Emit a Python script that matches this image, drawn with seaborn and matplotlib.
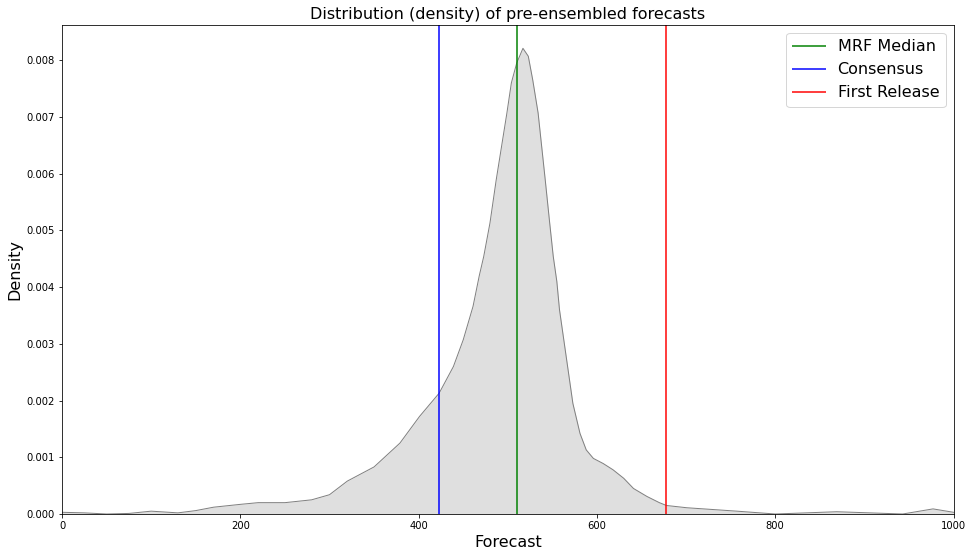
import numpy as np
import pandas as pd
import matplotlib
matplotlib.use("Agg")
import matplotlib.pyplot as plt
import seaborn as sns

# density curve
forecast = [0, 25, 50, 75, 100, 130, 150, 170, 200, 220, 250, 280, 300, 320, 350,
            379, 401, 423, 439, 450, 461, 468, 473, 480, 487, 493, 499, 504, 510,
            517, 523, 528, 534, 538, 542, 547, 551, 555, 558, 566, 573, 581, 588,
            596, 607, 618, 630, 641, 656, 670, 678, 701, 757, 800, 869, 943, 977,
            1000]
density = [0.00003, 0.00002, 0.0, 0.00001, 0.00005, 0.00002, 0.00006, 0.00012,
           0.00017, 0.0002, 0.0002, 0.00025, 0.00034, 0.00058, 0.00083, 0.00125,
           0.00172, 0.00213, 0.0026, 0.00307, 0.00366, 0.0042, 0.00454, 0.00513,
           0.00589, 0.00648, 0.00707, 0.0076, 0.00795, 0.00821, 0.00807, 0.00765,
           0.00707, 0.00648, 0.00589, 0.00513, 0.00454, 0.0041, 0.0036, 0.00272,
           0.00195, 0.00142, 0.00113, 0.00098, 0.00089, 0.00078, 0.00063, 0.00045,
           0.00031, 0.0002, 0.00015, 0.00011, 0.00005, 0.0, 0.00004, 0.0, 0.00009,
           0.00003]

mrf_median = 510
consensus = 423
first_release = 678

df = pd.DataFrame({"Forecast": forecast, "Density": density})

fig, ax = plt.subplots(figsize=(974 / 72, 557 / 72), dpi=72)
sns.lineplot(data=df, x="Forecast", y="Density", color="gray", lw=1, ax=ax)
ax.fill_between(df["Forecast"], df["Density"], color="gray", alpha=0.25, lw=0)

ax.axvline(mrf_median, color="green", alpha=0.75, lw=2, label="MRF Median")
ax.axvline(consensus, color="blue", alpha=0.75, lw=2, label="Consensus")
ax.axvline(first_release, color="red", alpha=0.75, lw=2, label="First Release")

ax.set_xlim(0, 1000)
ax.set_ylim(0, 0.00862)
ax.set_title("Distribution (density) of pre-ensembled forecasts", fontsize=16)
ax.set_xlabel("Forecast", fontsize=16)
ax.set_ylabel("Density", fontsize=16)
ax.legend(loc="upper right", fontsize=16)

plt.subplots_adjust(left=0.0637, right=0.979, top=0.955, bottom=0.0772)
plt.savefig("out.png", dpi=72)
